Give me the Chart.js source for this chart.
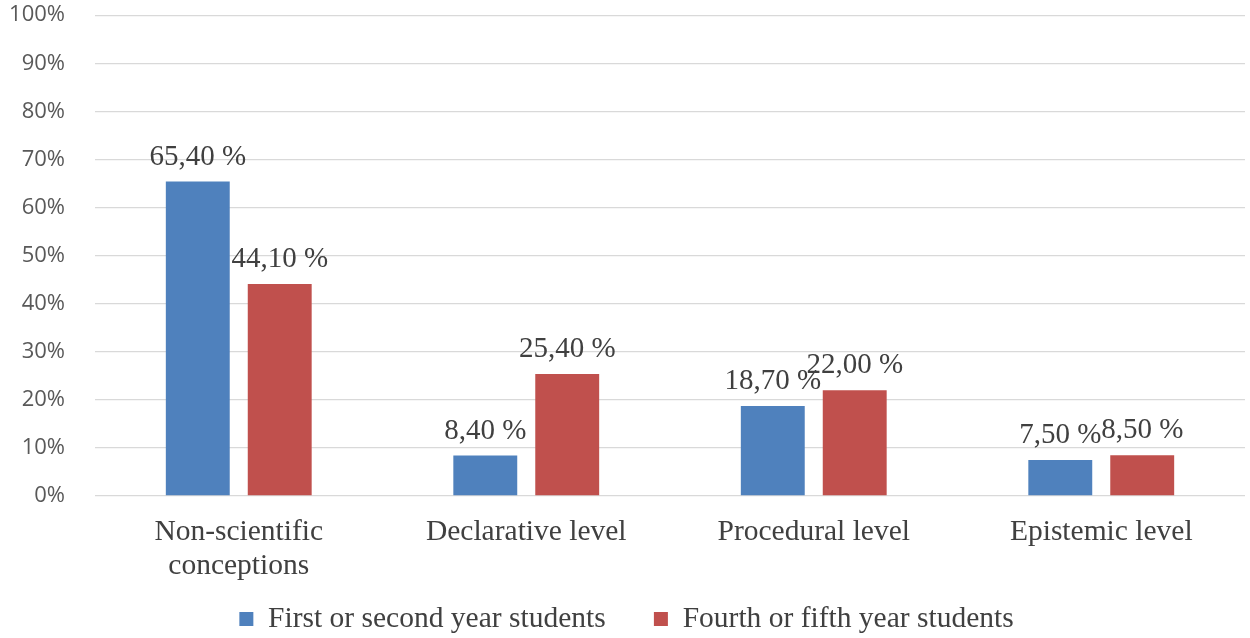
<!DOCTYPE html>
<html>
<head>
<meta charset="utf-8">
<script src="https://cdn.jsdelivr.net/npm/chart.js@4.4.1/dist/chart.umd.min.js"></script>
<style>
  html, body { margin: 0; padding: 0; background: #ffffff; }
  #wrap { width: 1250px; height: 638px; position: relative; }
</style>
</head>
<body>
<div id="wrap"><canvas id="c"></canvas></div>
<script>
const categories = [["Non-scientific", "conceptions"], "Declarative level", "Procedural level", "Epistemic level"];
const seriesNames = ["First or second year students", "Fourth or fifth year students"];
const firstSecond = [65.4, 8.4, 18.7, 7.5];
const fourthFifth = [44.1, 25.4, 22.0, 8.5];
const yTicks = [0, 10, 20, 30, 40, 50, 60, 70, 80, 90, 100];

const serif = "'Liberation Serif', 'Times New Roman', serif";
const sans = "'Open Sans', 'Noto Sans', sans-serif";

const valueLabels = {
  id: 'valueLabels',
  afterDatasetsDraw(chart) {
    const ctx = chart.ctx;
    ctx.save();
    ctx.font = "29px " + serif;
    ctx.fillStyle = '#404040';
    ctx.textAlign = 'center';
    ctx.textBaseline = 'alphabetic';
    chart.data.datasets.forEach((ds, i) => {
      const meta = chart.getDatasetMeta(i);
      meta.data.forEach((bar, j) => {
        const txt = ds.data[j].toFixed(2).replace('.', ',') + ' %';
        ctx.fillText(txt, bar.x, bar.y - 17);
      });
    });
    ctx.restore();
  }
};

new Chart(document.getElementById('c'), {
  type: 'bar',
  data: {
    labels: categories,
    datasets: [
      { label: seriesNames[0], data: firstSecond, backgroundColor: '#4F81BD', borderWidth: 0 },
      { label: seriesNames[1], data: fourthFifth, backgroundColor: '#C0504D', borderWidth: 0 }
    ]
  },
  options: {
    responsive: true,
    maintainAspectRatio: false,
    animation: false,
    devicePixelRatio: 1,
    datasets: { bar: { categoryPercentage: 0.57, barPercentage: 0.78 } },
    layout: { padding: { top: 0, right: 5, bottom: -5.75, left: 8 } },
    plugins: {
      tooltip: { enabled: false },
      legend: {
        position: 'bottom',
        labels: {
          font: { family: serif, size: 29.5 },
          color: '#404040',
          boxWidth: 14,
          boxHeight: 14,
          padding: 4,
          generateLabels(chart) {
            const items = Chart.defaults.plugins.legend.labels.generateLabels(chart);
            items[0].text = items[0].text + '\u00A0'.repeat(6);
            items.forEach(it => { it.lineWidth = 0; });
            return items;
          }
        }
      }
    },
    scales: {
      x: {
        grid: { display: false },
        border: { display: false },
        afterFit(axis) { axis.height = 104.25; },
        ticks: { font: { family: serif, size: 29.5, lineHeight: 1.13 }, color: '#404040', padding: 12, maxRotation: 0, autoSkip: false }
      },
      y: {
        min: 0, max: 100,
        afterBuildTicks(axis) { axis.ticks = yTicks.map(v => ({ value: v })); },
        afterFit(axis) { axis.width = 87; },
        grid: { color: '#d9d9d9', lineWidth: 1.3, drawTicks: true, tickLength: 28, tickColor: 'rgba(0,0,0,0)' },
        border: { display: false },
        ticks: { font: { family: sans, size: 22 }, color: '#595959', padding: 2, callback: v => v + '%' }
      }
    }
  },
  plugins: [valueLabels]
});
</script>
</body>
</html>
